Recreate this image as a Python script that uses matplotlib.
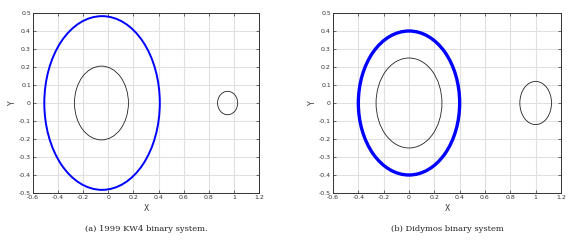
import numpy as np
import matplotlib.pyplot as plt
from matplotlib.patches import Ellipse

# orbit / body outlines: centre x, centre y, width, height
kw4_orbit = [-0.05, 0.0, 0.92, 0.965]
kw4_primary = [-0.055, 0.0, 0.43, 0.41]
kw4_secondary = [0.95, 0.0, 0.16, 0.13]

did_orbit = [0.0, 0.0, 0.80, 0.80]
did_primary = [0.0, 0.0, 0.52, 0.50]
did_secondary = [1.0, 0.0, 0.25, 0.24]

xticks = [-0.6, -0.4, -0.2, 0, 0.2, 0.4, 0.6, 0.8, 1, 1.2]
yticks = [-0.5, -0.4, -0.3, -0.2, -0.1, 0, 0.1, 0.2, 0.3, 0.4, 0.5]
captions = ['(a) 1999 KW4 binary system.', '(b) Didymos binary system']

fig = plt.figure(figsize=(5.8, 2.46), dpi=100)
ax1 = fig.add_axes([33 / 580, 1 - 193 / 246, 226 / 580, 180 / 246])
ax2 = fig.add_axes([333 / 580, 1 - 193 / 246, 228 / 580, 180 / 246])


def draw(ax, orbit, prim, sec, orbit_lw, caption):
    ax.add_patch(Ellipse((orbit[0], orbit[1]), orbit[2], orbit[3],
                         fill=False, ec='#0000ff', lw=orbit_lw, zorder=3))
    for e in (prim, sec):
        ax.add_patch(Ellipse((e[0], e[1]), e[2], e[3],
                             fill=False, ec='#222222', lw=0.6, zorder=3))
    ax.set_xlim(-0.6, 1.2)
    ax.set_ylim(-0.5, 0.5)
    ax.set_xticks(xticks)
    ax.set_yticks(yticks)
    ax.set_xticklabels([('%g' % t) for t in xticks])
    ax.set_yticklabels([('%g' % t) for t in yticks])
    ax.grid(True, color='#e0e0e0', lw=0.8)
    ax.set_axisbelow(True)
    ax.tick_params(direction='in', length=2, width=0.5, labelsize=4.5,
                   colors='#333333', top=True, right=True, pad=1.5)
    for s in ax.spines.values():
        s.set_linewidth(0.7)
        s.set_color('#333333')
    ax.set_xlabel('X', fontsize=5.5, labelpad=2.5, color='#333333')
    ax.set_ylabel('Y', fontsize=5.5, labelpad=1.5, color='#333333')
    ax.text(0.5, -0.2, caption, transform=ax.transAxes, ha='center',
            va='center', fontsize=6, family='DejaVu Serif', color='#222222')


draw(ax1, kw4_orbit, kw4_primary, kw4_secondary, 1.4, captions[0])
draw(ax2, did_orbit, did_primary, did_secondary, 2.4, captions[1])

plt.savefig('out.png', dpi=100)
